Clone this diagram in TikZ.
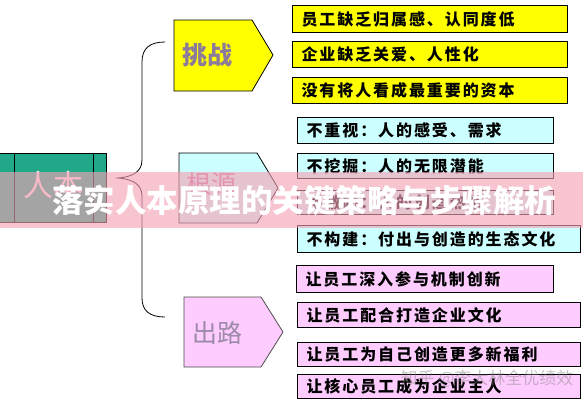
\documentclass[tikz,border=0pt]{standalone}
\usepackage{fontspec}
\newfontfamily\cjk{Noto Sans CJK SC}
\newfontfamily\cjksp[LetterSpace=12]{Noto Sans CJK SC}
\definecolor{ybg}{HTML}{FFFF00}
\definecolor{cbg}{HTML}{CCFFFF}
\definecolor{pbg}{HTML}{FFCCFF}
\definecolor{teal2}{HTML}{20A889}
\definecolor{lbl}{HTML}{8C7B9B}
\definecolor{lblp}{HTML}{9B8AA8}
\definecolor{lblc}{HTML}{C77BA8}
\definecolor{band}{RGB}{244,162,181}
\begin{document}
\begin{tikzpicture}[x=1pt,y=-1pt,
  rbox/.style={draw=black, line width=1pt, anchor=north west, inner xsep=9pt, inner ysep=0pt,
    align=left, font=\cjksp\bfseries\fontsize{16}{16}\selectfont},
  ybox/.style={rbox, fill=ybg},
  cbox/.style={rbox, fill=cbg},
  pbox/.style={rbox, fill=pbg},
  penta/.style={draw=black, line width=0.8pt},
  plabel/.style={font=\cjk\fontsize{25}{25}\selectfont},
  brace/.style={draw=black, line width=0.8pt}]
\useasboundingbox (0,0) rectangle (583,400);
\fill[white] (0,0) rectangle (583,400);

% left root box
\fill[teal2] (0,153) rectangle (106,222);
\draw[line width=0.8pt] (0,153) -- (106,153) -- (106,222) -- (0,222);
\draw[line width=0.8pt] (14,153) -- (14,222) (93,153) -- (93,222);
\node[font=\cjk\fontsize{30}{30}\selectfont, text=white!60!pink] (root) at (53,185) {人本};

% brace
\draw[brace] (165,42) .. controls (150,42) and (142,48) .. (142,62)
  -- (142,160) .. controls (142,172) and (132,177) .. (118,178)
  .. controls (132,179) and (142,184) .. (142,196)
  -- (142,298) .. controls (142,311) and (150,317) .. (165,317);

% category pentagons
\draw[penta, fill=ybg] (174,20) -- (252,20) -- (273,55) -- (252,91) -- (174,91) -- cycle;
\node[plabel, text=lbl, font=\cjk\bfseries\fontsize{25}{25}\selectfont] (tz) at (207,55) {挑战};
\draw[penta, fill=cbg] (179,153) -- (257,153) -- (278,188) -- (257,223) -- (179,223) -- cycle;
\node[plabel, text=lblc] (gy) at (211,184) {根源};
\draw[penta, fill=pbg, draw=black!70] (184,297) -- (261,297) -- (283,332) -- (261,367) -- (184,367) -- cycle;
\node[plabel, text=lblp] (cl) at (217,333) {出路};

% yellow items
\node[ybox, text width=257pt, minimum height=27pt] (y1) at (292,5) {员工缺乏归属感、认同度低};
\node[ybox, text width=257pt, minimum height=26pt] (y2) at (292,41) {企业缺乏关爱、人性化};
\node[ybox, text width=257pt, minimum height=26pt] (y3) at (292,77) {没有将人看成最重要的资本};

% cyan items
\node[cbox, text width=238pt, minimum height=26pt] (c1) at (297,117) {不重视：人的感受、需求};
\node[cbox, text width=238pt, minimum height=25pt] (c2) at (297,153) {不挖掘：人的无限潜能};
\node[cbox, text width=238pt, minimum height=24pt] (c3) at (297,190) {不激励：人的创造热情};
\node[cbox, text width=265pt, minimum height=27pt] (c4) at (297,225) {不构建：付出与创造的生态文化};

% pink items
\node[pbox, text width=239pt, minimum height=27pt] (p1) at (296,265) {让员工深入参与机制创新};
\node[pbox, text width=265pt, minimum height=25pt] (p2) at (297,302) {让员工配合打造企业文化};
\node[pbox, text width=265pt, minimum height=24pt] (p3) at (297,342) {让员工为自己创造更多新福利};
\node[pbox, text width=265pt, minimum height=24pt] (p4) at (297,374) {让核心员工成为企业主人};

% banner overlay
\fill[band, opacity=0.63] (0,172) rectangle (583,228);
\node[font=\cjk\bfseries\fontsize{31.5}{31.5}\selectfont, text=white] (title) at (304,200) {落实人本原理的关键策略与步骤解析};

% watermark
\node[font=\cjk\fontsize{17}{17}\selectfont, text=gray, opacity=0.45] (wm) at (487,379) {知乎 @李大林全优绩效};
\end{tikzpicture}
\end{document}
